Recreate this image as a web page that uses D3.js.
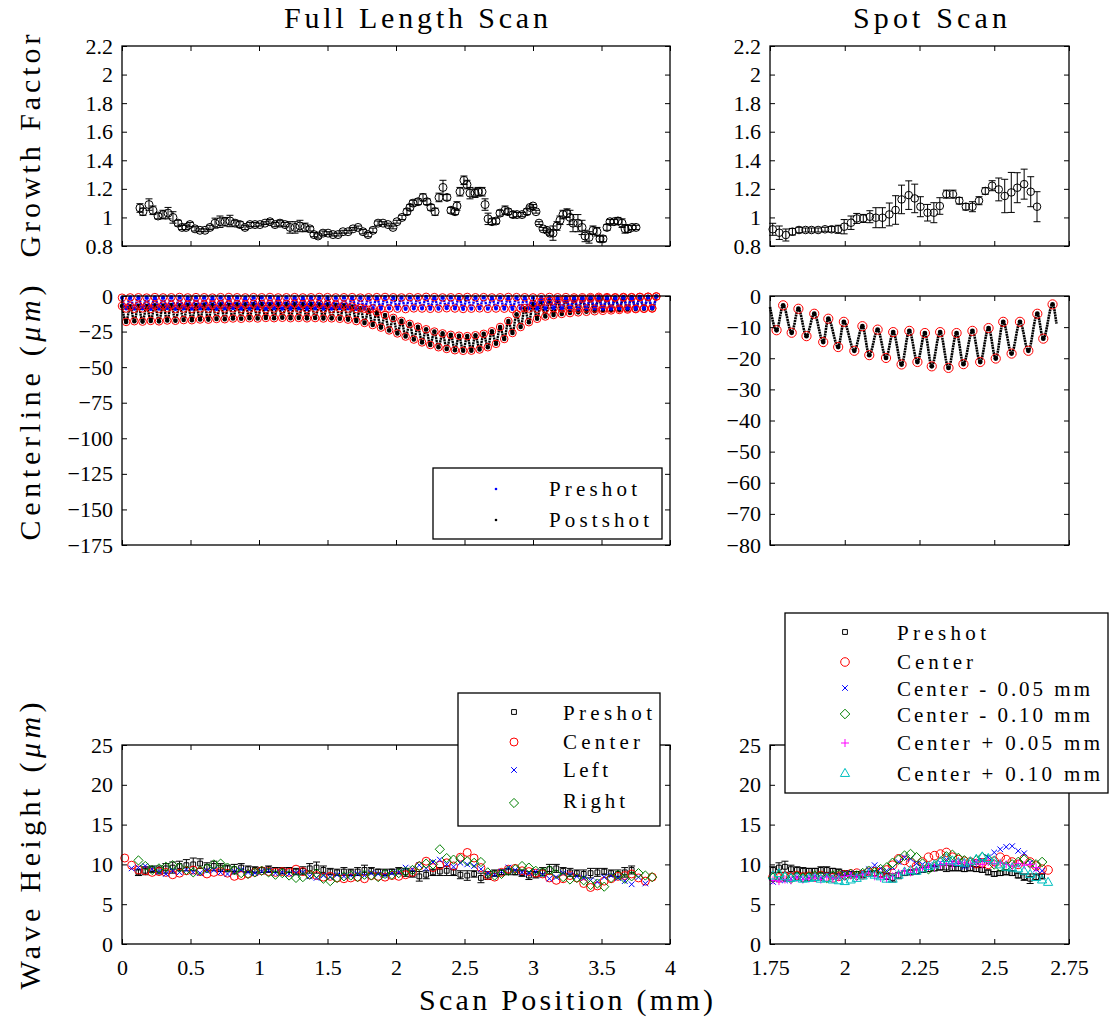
<!DOCTYPE html>
<html>
<head>
<meta charset="utf-8">
<script src="https://cdn.jsdelivr.net/npm/d3@7"></script>
<style>
  body { margin: 0; background: #fff; }
  svg { display: block; }
</style>
</head>
<body>
<svg id="fig" width="1109" height="1028"></svg>
<script>
// ---------- tick values ----------
const fullXTicks = [0, 0.5, 1, 1.5, 2, 2.5, 3, 3.5, 4];
const spotXTicks = [1.75, 2, 2.25, 2.5, 2.75];
const gfTicks = [0.8, 1, 1.2, 1.4, 1.6, 1.8, 2, 2.2];
const clFullTicks = [-175, -150, -125, -100, -75, -50, -25, 0];
const clSpotTicks = [-80, -70, -60, -50, -40, -30, -20, -10, 0];
const whTicks = [0, 5, 10, 15, 20, 25];

// ---------- growth factor, full length scan ----------
const gfFullX = [0.131,0.153,0.197,0.226,0.263,0.299,0.336,0.372,0.409,0.438,
  0.467,0.496,0.533,0.569,0.606,0.642,0.679,0.715,0.752,0.788,
  0.825,0.861,0.898,0.934,0.971,1.007,1.044,1.080,1.117,1.153,
  1.190,1.226,1.263,1.299,1.336,1.372,1.401,1.431,1.467,1.504,
  1.540,1.577,1.613,1.650,1.686,1.723,1.759,1.796,1.832,1.869,
  1.905,1.942,1.978,2.007,2.044,2.080,2.102,2.124,2.161,2.197,
  2.226,2.255,2.285,2.314,2.343,2.372,2.401,2.431,2.445,2.467,
  2.496,2.518,2.540,2.577,2.599,2.628,2.650,2.672,2.701,2.730,
  2.759,2.796,2.818,2.854,2.883,2.920,2.956,2.978,3.000,3.022,
  3.044,3.073,3.102,3.124,3.146,3.175,3.197,3.219,3.248,3.270,
  3.292,3.328,3.358,3.380,3.409,3.438,3.467,3.489,3.511,3.540,
  3.562,3.591,3.620,3.650,3.672,3.693,3.723,3.752];
const gfFullVal = [1.066,1.04,1.09,1.05,1.01,1.02,1.03,1.00,0.96,0.93,
  0.93,0.95,0.92,0.91,0.91,0.93,0.96,0.97,0.97,0.975,
  0.96,0.95,0.93,0.95,0.95,0.95,0.96,0.97,0.95,0.96,
  0.95,0.93,0.93,0.94,0.93,0.92,0.88,0.87,0.89,0.89,
  0.88,0.88,0.90,0.90,0.92,0.93,0.90,0.88,0.91,0.96,
  0.96,0.95,0.93,0.97,1.00,1.04,1.07,1.10,1.11,1.14,
  1.11,1.07,1.04,1.14,1.21,1.14,1.05,1.04,1.08,1.18,
  1.26,1.23,1.17,1.17,1.18,1.18,1.09,0.99,0.97,0.975,
  1.03,1.05,1.04,1.02,1.02,1.02,1.04,1.07,1.08,1.04,
  0.96,0.92,0.91,0.89,0.89,0.94,0.98,1.02,1.03,1.00,
  0.96,0.96,0.93,0.87,0.86,0.91,0.90,0.85,0.85,0.93,
  0.97,0.97,0.975,0.96,0.92,0.92,0.93,0.93];
const gfFullErr = [0.03,0.025,0.04,0.03,0.02,0.03,0.04,0.04,0.02,0.015,
  0.015,0.015,0.015,0.01,0.01,0.015,0.035,0.04,0.03,0.04,
  0.02,0.02,0.015,0.015,0.015,0.01,0.01,0.015,0.015,0.02,
  0.015,0.04,0.04,0.04,0.03,0.015,0.015,0.015,0.015,0.01,
  0.01,0.01,0.01,0.01,0.01,0.01,0.015,0.015,0.015,0.015,
  0.01,0.01,0.01,0.01,0.015,0.02,0.02,0.02,0.02,0.025,
  0.02,0.02,0.025,0.03,0.05,0.02,0.02,0.02,0.03,0.03,
  0.03,0.03,0.04,0.03,0.03,0.03,0.04,0.04,0.02,0.02,
  0.02,0.03,0.02,0.02,0.015,0.015,0.02,0.01,0.01,0.01,
  0.01,0.01,0.015,0.015,0.05,0.03,0.03,0.03,0.03,0.05,
  0.06,0.06,0.05,0.04,0.04,0.03,0.03,0.02,0.02,0.02,
  0.015,0.015,0.025,0.03,0.03,0.025,0.015,0.015];

// ---------- growth factor, spot scan ----------
const gfSpotX = [1.759,1.781,1.803,1.825,1.847,1.869,1.889,1.911,1.934,1.956,
  1.978,1.998,2.021,2.040,2.062,2.084,2.104,2.126,2.149,2.170,
  2.190,2.214,2.234,2.253,2.277,2.298,2.318,2.340,2.362,2.383,
  2.405,2.427,2.449,2.470,2.493,2.515,2.535,2.557,2.577,2.600,
  2.622,2.643];
const gfSpotVal = [0.917,0.893,0.877,0.900,0.912,0.912,0.912,0.912,0.917,0.917,
  0.917,0.935,0.963,0.993,0.993,1.005,0.998,0.998,1.021,1.052,
  1.126,1.156,1.133,1.075,1.033,1.033,1.080,1.163,1.163,1.117,
  1.075,1.075,1.117,1.185,1.222,1.196,1.150,1.175,1.208,1.233,
  1.180,1.075];
const gfSpotErr = [0.042,0.047,0.042,0.023,0.019,0.014,0.014,0.014,0.014,0.019,
  0.028,0.050,0.047,0.035,0.028,0.042,0.070,0.070,0.080,0.100,
  0.100,0.100,0.100,0.070,0.058,0.070,0.058,0.028,0.028,0.023,
  0.023,0.035,0.028,0.023,0.035,0.080,0.117,0.140,0.105,0.105,
  0.105,0.105];

// ---------- centerline, full length scan (profile crests and troughs) ----------
const fullCrestX = [0,0.06,0.12,0.18,0.24,0.3,0.36,0.42,0.48,0.54,0.6,0.66,0.72,0.78,0.84,0.9,0.96,
  1.02,1.08,1.14,1.2,1.26,1.32,1.38,1.44,1.5,1.56,1.62,1.68,1.74,1.8,1.86,1.92,1.98,
  2.04,2.1,2.16,2.22,2.28,2.34,2.4,2.46,2.52,2.58,2.64,2.7,2.76,2.82,2.88,2.94,
  3,3.06,3.12,3.18,3.24,3.3,3.36,3.42,3.48,3.54,3.6,3.66,3.72,3.78,3.84,3.9];
const fullTroughX = [0.03,0.09,0.15,0.21,0.27,0.33,0.39,0.45,0.51,0.57,0.63,0.69,0.75,0.81,0.87,0.93,0.99,
  1.05,1.11,1.17,1.23,1.29,1.35,1.41,1.47,1.53,1.59,1.65,1.71,1.77,1.83,1.89,1.95,
  2.01,2.07,2.13,2.19,2.25,2.31,2.37,2.43,2.49,2.55,2.61,2.67,2.73,2.79,2.85,2.91,2.97,
  3.03,3.09,3.15,3.21,3.27,3.33,3.39,3.45,3.51,3.57,3.63,3.69,3.75,3.81,3.87];
const preshotCrest = [-1.2,-1.0,-0.9,-1.1,-0.8,-1.0,-0.9,-0.7,-1.0,-0.8,
  -0.9,-1.1,-0.8,-0.7,-0.9,-1.0,-0.8,-0.9,-0.7,-1.0,
  -0.9,-0.8,-1.0,-0.9,-0.7,-0.8,-1.0,-0.9,-0.8,-1.1,
  -0.9,-0.8,-0.7,-0.9,-1.0,-0.8,-0.9,-0.6,-0.8,-1.0,
  -0.9,-0.8,-0.7,-0.9,-0.8,-1.0,-0.9,-0.7,-0.8,-0.9,
  -1.0,-0.8,-0.7,-0.9,-0.8,-1.0,-0.9,-0.8,-0.6,-0.8,
  -0.9,-0.7,-0.8,-0.6,-0.5,-0.4];
const preshotTrough = [-8.8,-9.0,-8.7,-9.1,-8.9,-8.6,-9.2,-8.8,-9.0,-8.7,
  -8.9,-9.1,-8.8,-8.6,-9.0,-8.9,-8.7,-9.2,-8.8,-9.0,
  -8.9,-8.7,-9.1,-8.8,-8.9,-9.0,-8.6,-8.8,-9.1,-8.9,
  -8.7,-9.0,-8.8,-8.9,-9.2,-8.7,-8.8,-9.0,-8.9,-8.6,
  -8.8,-9.1,-8.9,-8.7,-9.0,-8.8,-8.9,-9.1,-8.7,-8.8,
  -9.0,-8.9,-8.6,-8.8,-9.0,-8.9,-8.7,-8.8,-9.0,-8.9,
  -8.8,-8.7,-8.9,-8.8,-8.6];
const postshotCrest = [-7.0,-7.3,-6.8,-7.1,-6.6,-6.7,-6.3,-6.6,-6.2,-6.4,
  -6.0,-6.2,-5.9,-6.1,-5.8,-5.9,-5.6,-5.7,-5.8,-5.5,
  -5.6,-5.4,-5.7,-5.5,-5.8,-5.9,-6.1,-6.6,-7.4,-8.4,
  -9.8,-11.5,-13.4,-15.4,-17.5,-19.6,-21.6,-23.4,-25.0,-26.3,
  -27.3,-27.9,-28.2,-27.6,-26.6,-24.8,-21.8,-17.6,-12.8,-8.6,
  -5.6,-4.0,-3.2,-2.7,-2.4,-2.1,-1.9,-1.7,-1.5,-1.4,
  -1.2,-1.1,-1.0,-0.8,-0.6,-0.3];
const postshotTrough = [-18.2,-17.7,-18.0,-17.5,-17.8,-17.2,-17.4,-16.9,-17.0,-16.5,
  -16.6,-16.1,-16.3,-15.8,-16.0,-15.6,-15.8,-15.4,-15.6,-15.3,
  -15.6,-15.4,-15.7,-15.5,-15.8,-15.7,-16.0,-16.6,-17.6,-18.9,
  -20.4,-22.2,-24.2,-26.3,-28.5,-30.6,-32.6,-34.4,-36.0,-37.2,
  -38.1,-38.5,-38.4,-37.6,-36.0,-33.6,-30.2,-26.0,-21.8,-18.4,
  -16.0,-14.4,-13.3,-12.6,-12.0,-11.5,-11.1,-10.7,-10.4,-10.1,
  -9.8,-9.5,-9.2,-9.0,-8.8];

// ---------- centerline, spot scan (postshot) ----------
const clSpotX = [1.750,1.772,1.794,1.8225,1.845,1.872,1.898,1.928,1.945,1.978,
  1.997,2.032,2.059,2.082,2.110,2.138,2.162,2.190,2.216,2.243,
  2.268,2.291,2.319,2.347,2.374,2.397,2.427,2.453,2.481,2.505,
  2.530,2.558,2.586,2.614,2.644,2.664,2.695,2.708];
const clSpotVal = [-3.5,-11.0,-3.0,-11.8,-4.1,-12.9,-5.7,-14.8,-7.3,-16.4,
  -8.3,-17.6,-9.7,-19.0,-10.8,-19.9,-11.6,-22.0,-11.2,-21.2,
  -11.9,-22.6,-11.6,-23.1,-11.9,-21.9,-11.2,-21.2,-10.3,-20.1,
  -8.3,-18.5,-8.3,-17.6,-5.7,-13.7,-2.7,-8.9];

// ---------- wave height, full length scan ----------
const waveFullX = [0.02,0.07,0.12,0.17,0.22,0.27,0.32,0.37,0.42,0.47,0.52,0.57,0.62,0.67,0.72,0.77,0.82,0.87,0.92,0.97,
  1.02,1.07,1.12,1.17,1.22,1.27,1.32,1.37,1.42,1.47,1.52,1.57,1.62,1.67,1.72,1.77,1.82,1.87,1.92,1.97,
  2.02,2.07,2.12,2.17,2.22,2.27,2.32,2.37,2.42,2.47,2.52,2.57,2.62,2.67,2.72,2.77,2.82,2.87,2.92,2.97,
  3.02,3.07,3.12,3.17,3.22,3.27,3.32,3.37,3.42,3.47,3.52,3.57,3.62,3.67,3.72,3.77,3.82,3.87];
const waveFullCenter = [10.8,9.9,9.3,9.2,9.0,9.1,9.0,8.7,8.9,9.2,
  9.3,9.1,8.8,9.0,9.1,8.9,8.5,8.6,8.8,9.0,
  9.2,9.1,9.0,9.1,9.0,9.4,9.1,8.7,8.6,8.4,
  8.5,8.3,8.2,8.3,8.4,8.2,8.6,8.5,8.4,8.6,
  8.5,8.7,9.0,9.8,10.4,9.6,9.9,10.2,9.8,10.9,
  11.5,10.8,9.6,8.6,8.4,9.0,9.4,9.5,9.2,9.1,
  8.9,8.8,8.3,8.0,8.2,8.6,8.3,7.6,7.1,7.3,
  7.9,8.2,8.5,8.6,8.8,8.3,7.9,8.4];
const waveFullLeft = [null,9.5,9.6,9.8,9.4,9.1,8.8,9.2,9.0,9.3,
  9.0,8.9,9.2,9.3,9.0,8.8,9.1,9.3,9.0,8.9,
  9.1,9.2,8.9,9.0,8.8,8.9,9.0,8.5,8.3,8.6,
  8.4,8.7,8.5,8.6,8.8,8.6,8.9,8.8,8.6,8.9,
  9.0,9.6,9.4,9.9,9.5,10.3,10.6,10.0,9.7,10.2,
  10.0,9.8,9.4,8.9,8.7,9.1,9.6,9.3,9.0,8.9,
  9.1,8.7,8.2,8.4,8.9,8.7,8.5,8.3,8.0,7.8,
  8.4,8.6,8.3,7.9,7.5,8.4,7.6,null];
const waveFullRight = [null,null,10.5,9.8,9.3,9.5,9.7,9.9,9.6,9.3,
  9.0,9.2,9.5,10.0,10.1,9.6,9.3,8.9,8.8,9.0,
  9.2,9.0,8.7,8.9,8.6,8.3,8.4,8.7,8.9,8.2,
  7.9,8.3,8.5,8.6,8.4,8.7,8.6,8.4,8.8,8.7,
  8.9,9.1,9.3,9.8,10.1,10.0,11.9,10.8,10.6,10.7,
  10.4,10.2,10.3,9.0,8.6,8.8,9.2,9.4,9.8,9.6,
  9.2,9.0,9.3,8.8,8.4,8.1,8.3,8.0,7.4,7.6,
  7.2,8.3,8.7,8.2,8.5,8.9,8.6,8.4];
const preFullX = [0.12,0.17,0.22,0.27,0.32,0.37,0.42,0.47,0.52,0.57,0.62,0.67,0.72,0.77,0.82,0.87,0.92,0.97,
  1.02,1.07,1.12,1.17,1.22,1.27,1.32,1.37,1.42,1.47,1.52,1.57,1.62,1.67,1.72,1.77,1.82,1.87,1.92,1.97,
  2.02,2.07,2.12,2.17,2.22,2.27,2.32,2.37,2.42,2.47,2.52,2.57,2.62,2.67,2.72,2.77,2.82,2.87,2.92,2.97,
  3.02,3.07,3.12,3.17,3.22,3.27,3.32,3.37,3.42,3.47,3.52,3.57,3.62,3.67,3.72];
const preFullVal = [9.0,9.2,9.4,9.3,9.5,9.6,9.8,9.9,10.0,10.1,
  9.7,9.8,9.6,9.5,9.4,9.6,9.4,9.3,9.3,9.4,
  9.3,9.2,9.3,9.1,9.2,9.5,9.6,9.3,9.1,9.0,
  9.1,9.0,9.1,9.3,9.2,9.1,9.0,9.1,9.2,9.0,
  8.8,8.5,8.7,9.0,9.1,9.2,9.0,8.7,8.6,8.8,
  8.3,8.6,8.9,9.0,9.1,9.0,8.9,8.6,8.7,9.1,
  9.4,9.5,9.2,9.0,8.9,8.8,8.9,9.0,9.1,8.9,
  8.8,9.0,9.3];
const preFullErr = [0.4,0.5,0.4,0.5,0.6,0.7,0.6,0.7,0.8,0.6,
  0.5,0.6,0.5,0.4,0.6,0.5,0.4,0.4,0.3,0.4,
  0.3,0.4,0.3,0.4,0.5,0.6,0.7,0.5,0.4,0.4,
  0.5,0.4,0.5,0.6,0.4,0.3,0.4,0.3,0.4,0.5,
  0.4,0.6,0.5,0.4,0.5,0.6,0.4,0.5,0.6,0.4,
  0.6,0.5,0.4,0.3,0.4,0.3,0.4,0.5,0.4,0.5,
  0.6,0.5,0.4,0.5,0.4,0.5,0.6,0.5,0.4,0.4,
  0.5,0.6,0.5];

// ---------- wave height, spot scan ----------
const waveSpotX = [1.76,1.78,1.8,1.82,1.84,1.86,1.88,1.9,1.92,1.94,
  1.96,1.98,2,2.02,2.04,2.06,2.08,2.1,2.12,2.14,
  2.16,2.18,2.2,2.22,2.24,2.26,2.28,2.3,2.32,2.34,
  2.36,2.38,2.4,2.42,2.44,2.46,2.48,2.5,2.52,2.54,
  2.56,2.58,2.6,2.62,2.64,2.66,2.68];
const spotPreshot = [9.3,9.6,9.7,9.4,9.3,9.2,9.2,9.2,9.3,9.3,
  9.2,9.1,8.9,8.8,8.8,8.7,8.8,8.9,8.7,8.5,
  8.3,8.6,8.9,9.0,9.1,9.3,9.4,9.5,9.6,9.6,
  9.5,9.5,9.4,9.5,9.4,9.3,9.0,8.8,8.9,9.0,
  8.9,8.6,8.4,8.2,8.4,8.5,null];
const spotPreshotErr = [0.4,0.6,0.7,0.5,0.4,0.4,0.3,0.3,0.4,0.4,
  0.3,0.3,0.3,0.3,0.3,0.3,0.3,0.3,0.3,0.4,
  0.5,0.4,0.3,0.3,0.3,0.3,0.3,0.3,0.3,0.5,
  0.3,0.3,0.3,0.3,0.3,0.3,0.3,0.3,0.3,0.3,
  0.3,0.3,0.4,0.6,0.4,0.3,null];
const spotCenter = [8.4,8.3,8.5,8.4,8.6,8.4,8.5,8.4,8.6,8.4,
  8.3,8.5,8.7,8.8,8.9,8.7,9.0,9.1,9.0,9.3,
  9.9,10.7,10.5,10.2,9.8,10.3,10.9,11.1,11.3,11.5,
  10.9,10.6,10.4,10.3,10.1,10.2,10.0,10.4,10.9,10.6,
  10.3,10.0,10.7,10.3,9.8,9.4,9.3];
const spotMinus05 = [7.8,8.1,8.0,8.2,8.4,8.2,8.3,8.5,8.3,8.6,
  8.4,8.5,8.8,8.9,8.6,9.0,9.4,9.9,9.5,9.2,
  9.6,10.3,10.9,10.7,10.1,10.0,9.8,9.9,10.2,10.6,
  10.3,10.0,9.7,9.9,10.3,10.5,10.9,11.5,11.9,12.2,
  12.3,11.7,11.4,10.2,9.4,9.2,null];
const spotMinus10 = [8.3,8.6,8.4,8.2,8.5,8.3,8.4,8.6,8.5,8.3,
  8.6,8.7,8.6,8.8,8.6,8.9,9.2,9.0,9.4,9.6,
  10.2,10.6,11.1,11.3,10.9,10.1,9.4,9.7,10.3,11.0,
  11.2,10.8,10.5,10.2,10.5,10.9,10.6,10.0,9.7,9.8,
  10.0,10.3,10.6,10.1,10.0,10.3,null];
const spotPlus05 = [8.0,7.9,8.1,8.0,8.3,8.1,8.2,8.3,8.1,8.4,
  8.2,8.4,8.5,8.6,8.4,8.7,8.9,8.5,8.3,8.2,
  8.5,8.9,9.2,9.0,9.3,9.5,9.7,9.6,9.9,10.1,
  10.0,10.3,10.2,10.0,10.2,10.0,10.3,10.1,10.2,10.0,
  9.8,10.1,9.9,10.0,9.6,null,null];
const spotPlus10 = [8.6,8.9,8.5,8.3,8.4,8.2,8.3,8.4,8.2,8.3,
  8.1,8.0,7.9,8.1,8.3,8.6,8.9,8.7,8.5,8.2,
  8.2,8.7,9.1,9.3,9.2,9.5,9.8,10.0,10.4,10.8,
  10.5,10.3,10.2,10.4,10.7,11.0,10.8,10.5,10.0,9.7,
  9.6,9.5,9.2,8.8,8.4,8.1,7.8];

// ---------- texts ----------
const titles = ["Full Length Scan", "Spot Scan"];
const profileLegend = ["Preshot", "Postshot"];
const waveFullLegend = ["Preshot", "Center", "Left", "Right"];
const waveSpotLegend = ["Preshot", "Center", "Center - 0.05 mm", "Center - 0.10 mm",
                        "Center + 0.05 mm", "Center + 0.10 mm"];

// =====================================================================
// pick the first installed serif face (compare glyph widths against fallbacks)
function pickSerif() {
  const cands = ["Liberation Serif", "DejaVu Serif", "Noto Serif", "Tinos", "Times New Roman",
                 "Nimbus Roman", "FreeSerif", "Times"];
  const ctx = document.createElement("canvas").getContext("2d");
  const probe = "mmmWWWiiilll0123456789 Growth Factor";
  const w = f => { ctx.font = "40px " + f; return ctx.measureText(probe).width; };
  const mono = w("monospace"), sans = w("sans-serif");
  for (const c of cands) {
    if (w(`"${c}", monospace`) !== mono || w(`"${c}", sans-serif`) !== sans) return `"${c}", serif`;
  }
  return "serif";
}
const SERIF = pickSerif();
const RED = "#ff0000", BLUE = "#0000ff", GREEN = "#008000",
      MAGENTA = "#ff00ff", CYAN = "#00bfbf", BLACK = "#000000";
const svg = d3.select("#fig");
const layer = svg.append("g");

// marker shapes; size is (2r)^2 so r = sqrt(size)/2
const symCircle = { draw(c, s) { const r = Math.sqrt(s) / 2; c.moveTo(r, 0); c.arc(0, 0, r, 0, 2 * Math.PI); } };
const symSquare = { draw(c, s) { const r = Math.sqrt(s) / 2; c.rect(-r, -r, 2 * r, 2 * r); } };
const symDiamond = { draw(c, s) { const r = Math.sqrt(s) / 2; c.moveTo(0, -r); c.lineTo(r, 0); c.lineTo(0, r); c.lineTo(-r, 0); c.closePath(); } };
const symTriangle = { draw(c, s) { const r = Math.sqrt(s) / 2; c.moveTo(0, -r); c.lineTo(r, r * 0.75); c.lineTo(-r, r * 0.75); c.closePath(); } };
const symPlus = { draw(c, s) { const r = Math.sqrt(s) / 2; c.moveTo(-r, 0); c.lineTo(r, 0); c.moveTo(0, -r); c.lineTo(0, r); } };
const symTimes = { draw(c, s) { const r = Math.sqrt(s) / 2; c.moveTo(-r, -r); c.lineTo(r, r); c.moveTo(r, -r); c.lineTo(-r, r); } };
const markerPath = (type, r) => d3.symbol().type(type).size(4 * r * r)();

function mkPanel(x0, x1, y0, y1, xd, yd, xt, yt, showX) {
  const x = d3.scaleLinear().domain(xd).range([x0, x1]);
  const y = d3.scaleLinear().domain(yd).range([y1, y0]);
  const g = layer.append("g");
  return { x0, x1, y0, y1, x, y, xt, yt, showX, g, data: g.append("g") };
}

const fmt = v => String(v).replace("-", "\u2212");

function drawAxes(p) {
  const a = p.g.append("g");
  a.append("g").attr("transform", `translate(${p.x0},0)`)
    .call(d3.axisLeft(p.y).tickValues(p.yt).tickSizeInner(-5).tickSizeOuter(0).tickPadding(9).tickFormat(fmt));
  a.append("g").attr("transform", `translate(${p.x1},0)`)
    .call(d3.axisRight(p.y).tickValues(p.yt).tickSizeInner(-5).tickSizeOuter(0).tickFormat(""));
  a.append("g").attr("transform", `translate(0,${p.y0})`)
    .call(d3.axisTop(p.x).tickValues(p.xt).tickSizeInner(-5).tickSizeOuter(0).tickFormat(""));
  a.append("g").attr("transform", `translate(0,${p.y1})`)
    .call(d3.axisBottom(p.x).tickValues(p.xt).tickSizeInner(-5).tickSizeOuter(0).tickPadding(15)
      .tickFormat(p.showX ? fmt : ""));
  a.selectAll(".domain").remove();
  a.selectAll("g").attr("font-family", null).attr("font-size", null);
  a.selectAll(".tick line").attr("stroke", BLACK).attr("stroke-width", 1);
  a.selectAll(".tick text").attr("fill", BLACK)
    .style("font-family", SERIF).style("font-size", "22px");
  a.append("rect").attr("x", p.x0).attr("y", p.y0)
    .attr("width", p.x1 - p.x0).attr("height", p.y1 - p.y0)
    .attr("fill", "none").attr("stroke", BLACK).attr("stroke-width", 1.3);
}

function scatter(p, xs, ys, type, r, color, sw = 1) {
  const pts = xs.map((x, i) => ({ x, y: ys[i] })).filter(d => d.y != null);
  p.data.append("g").selectAll("path").data(pts).join("path")
    .attr("transform", d => `translate(${p.x(d.x)},${p.y(d.y)})`)
    .attr("d", markerPath(type, r))
    .attr("fill", "none").attr("stroke", color).attr("stroke-width", sw);
}

function errorBars(p, xs, ys, es, cap, color) {
  const pts = xs.map((x, i) => ({ x, y: ys[i], e: es[i] })).filter(d => d.y != null);
  const g = p.data.append("g").attr("stroke", color).attr("stroke-width", 1).attr("fill", "none");
  g.selectAll("path").data(pts).join("path")
    .attr("d", d => {
      const cx = p.x(d.x), t = p.y(d.y + d.e), b = p.y(d.y - d.e);
      return `M${cx},${t}V${b}M${cx - cap},${t}H${cx + cap}M${cx - cap},${b}H${cx + cap}`;
    });
}

// dotted profile trace through crest/trough samples, with a dot on each sample
function profile(p, pts, color, width, dotR) {
  const line = d3.line().x(d => p.x(d[0])).y(d => p.y(d[1])).curve(d3.curveMonotoneX);
  const g = p.data.append("g");
  g.append("path").attr("d", line(pts)).attr("fill", "none")
    .attr("stroke", color).attr("stroke-width", width).attr("stroke-dasharray", "2 0.6");
  if (dotR > 0) {
    g.selectAll("circle").data(pts).join("circle")
      .attr("cx", d => p.x(d[0])).attr("cy", d => p.y(d[1])).attr("r", dotR).attr("fill", color);
  }
}

function rings(p, pts, r) {
  p.data.append("g").selectAll("circle").data(pts).join("circle")
    .attr("cx", d => p.x(d[0])).attr("cy", d => p.y(d[1])).attr("r", r)
    .attr("fill", "none").attr("stroke", RED).attr("stroke-width", 1);
}

// spaced serif text fitted to a given width
function spacedText(parent, x, y, width, size, parts) {
  const t = parent.append("text").attr("x", x).attr("y", y)
    .style("font-family", SERIF).style("font-size", size + "px").attr("fill", BLACK);
  parts.forEach(pt => {
    const s = t.append("tspan").text(pt.text);
    if (pt.italic) s.style("font-style", "italic");
  });
  const node = t.node();
  const nat = node.getComputedTextLength();
  const n = node.textContent.length;
  if (n > 1) t.style("letter-spacing", ((width - nat) / (n - 1)) + "px");
  return t;
}

function legend(box, rows, mx, tx) {
  const g = svg.append("g");
  g.append("rect").attr("x", box[0]).attr("y", box[1])
    .attr("width", box[2] - box[0]).attr("height", box[3] - box[1])
    .attr("fill", "#fff").attr("stroke", BLACK).attr("stroke-width", 1.3);
  rows.forEach(r => {
    if (r.dot) {
      g.append("circle").attr("cx", mx).attr("cy", r.cy).attr("r", 1.3).attr("fill", r.color);
    } else {
      g.append("path").attr("transform", `translate(${mx},${r.cy})`)
        .attr("d", markerPath(r.type, r.r)).attr("fill", "none")
        .attr("stroke", r.color).attr("stroke-width", 1);
    }
    spacedText(g, tx, r.base, r.w, 21, [{ text: r.label }]);
  });
}

// ---------- panels ----------
const gfFull = mkPanel(122, 670, 46, 246, [0, 4], [0.8, 2.2], fullXTicks, gfTicks, false);
const gfSpot = mkPanel(770, 1069, 46, 246, [1.75, 2.75], [0.8, 2.2], spotXTicks, gfTicks, false);
const clFull = mkPanel(122, 670, 296, 545, [0, 4], [-175, 0], fullXTicks, clFullTicks, false);
const clSpot = mkPanel(770, 1069, 296, 545, [1.75, 2.75], [-80, 0], spotXTicks, clSpotTicks, false);
const whFull = mkPanel(122, 670, 745, 944, [0, 4], [0, 25], fullXTicks, whTicks, true);
const whSpot = mkPanel(770, 1069, 745, 944, [1.75, 2.75], [0, 25], spotXTicks, whTicks, true);

// growth factor
errorBars(gfFull, gfFullX, gfFullVal, gfFullErr, 3.5, BLACK);
scatter(gfFull, gfFullX, gfFullVal, symCircle, 4, BLACK);
errorBars(gfSpot, gfSpotX, gfSpotVal, gfSpotErr, 3.5, BLACK);
scatter(gfSpot, gfSpotX, gfSpotVal, symCircle, 3.8, BLACK);

// centerline, full length
const merge = (xa, ya, xb, yb) =>
  xa.map((x, i) => [x, ya[i]]).concat(xb.map((x, i) => [x, yb[i]])).sort((a, b) => a[0] - b[0]);
const prePts = merge(fullCrestX, preshotCrest, fullTroughX, preshotTrough);
const postPts = merge(fullCrestX, postshotCrest, fullTroughX, postshotTrough);
profile(clFull, postPts, BLACK, 2.4, 2.3);
profile(clFull, prePts, BLUE, 2.4, 2.0);
rings(clFull, prePts, 3.8);
rings(clFull, postPts, 3.8);

// centerline, spot
const spotPts = clSpotX.map((x, i) => [x, clSpotVal[i]]);
const spotExtrema = spotPts.filter((d, i) => i > 0 && i < spotPts.length - 1 &&
  ((d[1] > spotPts[i - 1][1] && d[1] > spotPts[i + 1][1]) ||
   (d[1] < spotPts[i - 1][1] && d[1] < spotPts[i + 1][1])));
profile(clSpot, spotPts, BLACK, 2.6, 0);
clSpot.data.append("g").selectAll("circle").data(spotExtrema).join("circle")
  .attr("cx", d => clSpot.x(d[0])).attr("cy", d => clSpot.y(d[1])).attr("r", 2.4).attr("fill", BLACK);
rings(clSpot, spotExtrema, 4.6);

// wave height, full length
errorBars(whFull, preFullX, preFullVal, preFullErr, 3.5, BLACK);
scatter(whFull, preFullX, preFullVal, symSquare, 2.4, BLACK);
scatter(whFull, waveFullX, waveFullCenter, symCircle, 4, RED);
scatter(whFull, waveFullX, waveFullLeft, symTimes, 2.8, BLUE);
scatter(whFull, waveFullX, waveFullRight, symDiamond, 4.6, GREEN);

// wave height, spot
errorBars(whSpot, waveSpotX, spotPreshot, spotPreshotErr, 3.5, BLACK);
scatter(whSpot, waveSpotX, spotPreshot, symSquare, 2.4, BLACK);
scatter(whSpot, waveSpotX, spotCenter, symCircle, 4.3, RED);
scatter(whSpot, waveSpotX, spotMinus05, symTimes, 2.8, BLUE);
scatter(whSpot, waveSpotX, spotMinus10, symDiamond, 4.8, GREEN);
scatter(whSpot, waveSpotX, spotPlus05, symPlus, 4, MAGENTA);
scatter(whSpot, waveSpotX, spotPlus10, symTriangle, 4.6, CYAN);

[gfFull, gfSpot, clFull, clSpot, whFull, whSpot].forEach(drawAxes);

// ---------- titles and axis labels ----------
spacedText(svg, 284, 28, 264, 30, [{ text: titles[0] }]);
spacedText(svg, 853, 28, 154, 30, [{ text: titles[1] }]);
spacedText(svg, 419, 1010, 294, 30, [{ text: "Scan Position (mm)" }]);

function yLabel(cy, width, parts) {
  const g = svg.append("g").attr("transform", `translate(40,${cy + width / 2}) rotate(-90)`);
  spacedText(g, 0, 0, width, 30, parts);
}
yLabel(146, 223, [{ text: "Growth Factor" }]);
yLabel(413, 255, [{ text: "Centerline (" }, { text: "\u03bcm", italic: true }, { text: ")" }]);
yLabel(846, 287, [{ text: "Wave Height (" }, { text: "\u03bcm", italic: true }, { text: ")" }]);

// ---------- legends ----------
legend([433, 468, 662, 539], [
  { label: profileLegend[0], dot: true, color: BLUE, cy: 489, base: 496, w: 88 },
  { label: profileLegend[1], dot: true, color: BLACK, cy: 520, base: 527, w: 100 }
], 496, 549);

legend([458, 693, 660, 826], [
  { label: waveFullLegend[0], type: symSquare, r: 2.4, color: BLACK, cy: 712, base: 720, w: 89 },
  { label: waveFullLegend[1], type: symCircle, r: 4, color: RED, cy: 742, base: 749, w: 77 },
  { label: waveFullLegend[2], type: symTimes, r: 2.8, color: BLUE, cy: 770, base: 777, w: 45 },
  { label: waveFullLegend[3], type: symDiamond, r: 4.6, color: GREEN, cy: 803, base: 808, w: 62 }
], 514, 563);

legend([785, 613, 1108, 793], [
  { label: waveSpotLegend[0], type: symSquare, r: 2.4, color: BLACK, cy: 632, base: 640, w: 89 },
  { label: waveSpotLegend[1], type: symCircle, r: 4.3, color: RED, cy: 662, base: 669, w: 76 },
  { label: waveSpotLegend[2], type: symTimes, r: 2.8, color: BLUE, cy: 688, base: 696, w: 193 },
  { label: waveSpotLegend[3], type: symDiamond, r: 4.8, color: GREEN, cy: 714, base: 722, w: 193 },
  { label: waveSpotLegend[4], type: symPlus, r: 4, color: MAGENTA, cy: 743, base: 750, w: 203 },
  { label: waveSpotLegend[5], type: symTriangle, r: 4.6, color: CYAN, cy: 773, base: 781, w: 203 }
], 845, 897);
</script>
</body>
</html>
